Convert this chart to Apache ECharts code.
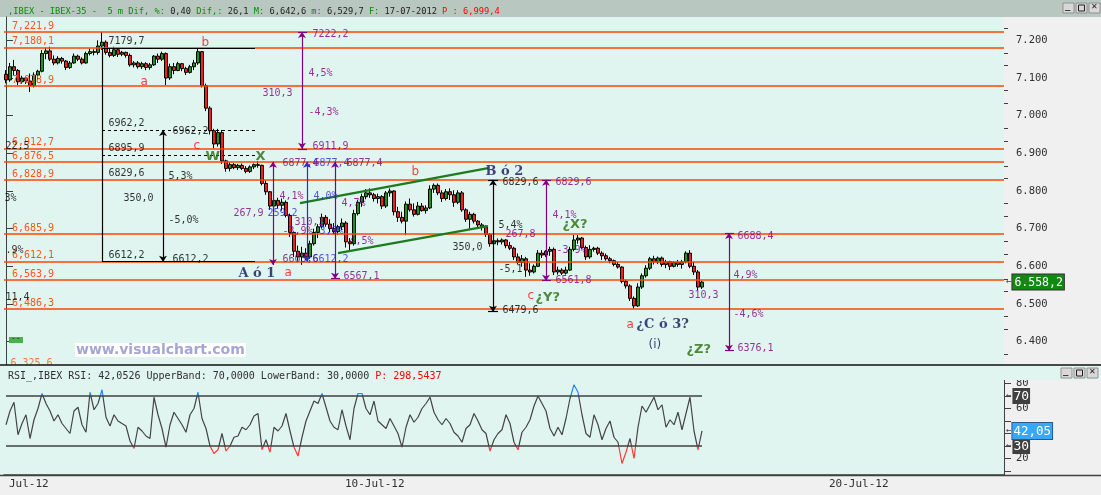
<!DOCTYPE html>
<html><head><meta charset="utf-8">
<script src="https://cdn.jsdelivr.net/npm/echarts@6/dist/echarts.min.js"></script>
<style>html,body{margin:0;padding:0;background:#f0f0f0;}#c{width:1101px;height:495px;}</style>
</head><body><div id="c"></div>
<script>
// ---------- DATA ----------
const categoryCount = 250;
const dateTicks = [[0, 'Jul-12'], [84, '10-Jul-12'], [205, '20-Jul-12']];

// [open, close, low, high]
const ohlc = [
[7110,7095,7086,7121],[7095,7130,7090,7140],[7130,7120,7108,7148],[7120,7090,7081,7124],[7090,7100,7085,7106],
[7100,7092,7084,7104],[7092,7080,7063,7112],[7080,7108,7075,7115],[7108,7118,7095,7122],[7118,7165,7115,7174],
[7165,7172,7150,7180],[7172,7150,7145,7183],[7150,7140,7134,7160],[7140,7152,7136,7158],[7152,7145,7138,7156],
[7145,7128,7121,7148],[7128,7140,7124,7145],[7140,7158,7138,7165],[7158,7150,7145,7162],[7150,7140,7136,7155],
[7140,7165,7138,7170],[7165,7170,7160,7178],[7170,7168,7160,7176],[7168,7185,7162,7200],[7185,7195,7175,7222],
[7195,7168,7162,7200],[7168,7160,7155,7178],[7160,7175,7156,7183],[7175,7163,7156,7180],[7163,7168,7158,7172],
[7168,7160,7154,7170],[7160,7135,7130,7165],[7135,7140,7128,7145],[7140,7130,7125,7145],[7130,7138,7124,7143],
[7138,7128,7121,7142],[7128,7135,7122,7140],[7135,7158,7132,7161],[7158,7150,7140,7165],[7150,7165,7145,7170],
[7165,7100,7081,7168],[7100,7130,7095,7138],[7130,7120,7110,7140],[7120,7138,7118,7143],[7138,7125,7118,7140],
[7125,7115,7108,7130],[7115,7130,7112,7135],[7130,7140,7121,7148],[7140,7170,7135,7180],[7170,7080,7075,7172],
[7080,7020,7012,7085],[7020,6960,6950,7025],[6960,6925,6913,6965],[6925,6955,6918,6965],[6955,6880,6872,6962],
[6880,6860,6851,6883],[6860,6870,6852,6876],[6870,6862,6858,6874],[6862,6868,6856,6872],[6868,6860,6856,6873],
[6860,6852,6847,6866],[6852,6864,6848,6868],[6864,6870,6858,6873],[6870,6868,6862,6880],[6868,6820,6815,6870],
[6820,6798,6790,6828],[6798,6760,6750,6800],[6760,6775,6752,6780],[6775,6762,6754,6782],[6762,6770,6748,6780],
[6770,6735,6730,6775],[6735,6690,6678,6740],[6690,6640,6625,6692],[6640,6625,6615,6655],[6625,6635,6604,6652],
[6635,6625,6617,6648],[6625,6660,6620,6668],[6660,6690,6655,6700],[6690,6705,6675,6712],[6705,6730,6700,6740],
[6730,6712,6705,6736],[6712,6700,6690,6725],[6700,6692,6685,6715],[6692,6705,6683,6710],[6705,6715,6696,6727],
[6715,6665,6650,6720],[6665,6660,6643,6675],[6660,6740,6655,6750],[6740,6770,6735,6776],[6770,6785,6758,6793],
[6785,6795,6778,6805],[6795,6790,6782,6807],[6790,6780,6772,6795],[6780,6785,6767,6793],[6785,6760,6752,6789],
[6760,6795,6755,6800],[6795,6800,6785,6807],[6800,6745,6735,6802],[6745,6730,6718,6758],[6730,6720,6714,6745],
[6720,6765,6683,6772],[6765,6750,6745,6780],[6750,6738,6732,6767],[6738,6760,6735,6771],[6760,6748,6745,6768],
[6748,6755,6740,6762],[6755,6805,6752,6815],[6805,6815,6795,6820],[6815,6795,6789,6820],[6795,6780,6771,6802],
[6780,6798,6775,6805],[6798,6790,6776,6807],[6790,6770,6758,6802],[6770,6795,6765,6802],[6795,6750,6745,6800],
[6750,6725,6718,6754],[6725,6738,6700,6745],[6738,6720,6714,6742],[6720,6710,6700,6723],[6710,6705,6695,6715],
[6705,6685,6678,6709],[6685,6660,6652,6688],[6660,6668,6655,6674],[6668,6665,6656,6674],[6665,6670,6658,6674],
[6670,6655,6648,6672],[6655,6648,6643,6665],[6648,6625,6617,6652],[6625,6610,6605,6634],[6610,6620,6599,6630],
[6620,6590,6572,6625],[6590,6585,6575,6608],[6585,6600,6581,6605],[6600,6635,6598,6643],[6635,6630,6622,6643],
[6630,6640,6625,6643],[6640,6645,6628,6652],[6645,6585,6577,6650],[6585,6590,6578,6599],[6590,6582,6577,6595],
[6582,6590,6578,6599],[6590,6645,6588,6652],[6645,6670,6640,6683],[6670,6675,6660,6683],[6675,6650,6645,6678],
[6650,6625,6617,6655],[6625,6645,6620,6656],[6645,6648,6639,6652],[6648,6635,6630,6652],[6635,6628,6617,6640],
[6628,6620,6615,6634],[6620,6615,6608,6625],[6615,6605,6600,6618],[6605,6598,6594,6612],[6598,6560,6555,6600],
[6560,6548,6541,6565],[6548,6515,6508,6552],[6515,6495,6488,6520],[6495,6545,6492,6555],[6545,6575,6540,6581],
[6575,6595,6570,6603],[6595,6620,6590,6625],[6620,6612,6605,6628],[6612,6622,6606,6626],[6622,6605,6599,6626],
[6605,6612,6595,6617],[6612,6600,6590,6615],[6600,6610,6597,6614],[6610,6605,6599,6617],[6605,6612,6594,6617],
[6612,6635,6608,6640],[6635,6600,6595,6643],[6600,6585,6577,6612],[6585,6545,6537,6590],[6545,6558.2,6540,6562]
];

const rsi = [
47,58,65,39,48,55,36,51,60,72,
64,58,50,55,48,44,40,58,61,47,
41,73,59,64,75,53,46,55,50,48,
46,34,28,45,42,38,36,69,55,44,
29,47,57,52,47,41,55,60,73,52,
44,30,24,27,40,26,30,37,38,45,
43,47,54,56,27,35,25,45,42,46,
56,42,29,22,37,50,58,66,64,72,
61,50,45,43,59,46,35,60,72,72,
60,55,66,50,47,44,52,46,40,29,
45,55,49,53,60,64,69,57,51,47,
52,48,41,38,33,44,47,56,50,43,
40,26,35,40,43,55,48,33,27,41,
45,51,62,70,64,58,44,38,45,39,
52,68,79,73,55,40,37,55,47,35,
44,50,37,33,16,25,36,20,45,62,
57,63,69,59,63,45,51,47,57,43,
56,69,42,27,42.05
];

const levels = [7221.9, 7180.1, 7078.9, 6912.7, 6876.5, 6828.9, 6685.9, 6612.1, 6563.9, 6486.3];
const levelBelow = [[1, 6342.9, '6,325,6']];
const priceTicks = [6400, 6500, 6600, 6700, 6800, 6900, 7000, 7100, 7200];
const priceMinorTicks = [6366.7, 6433.3, 6466.7, 6533.3, 6566.7, 6633.3, 6666.7, 6733.3, 6766.7, 6833.3, 6866.7, 6933.3, 6966.7, 7033.3, 7066.7, 7133.3, 7166.7, 7233.3];
const lastPrice = 6558.2;
const rsiTicks = [10, 20, 30, 40, 50, 60, 70, 80];
const rsiLabels = [20, 60, 80];
const rsiBandTags = [70, 30];
const rsiLast = 42.05;
const rsiBands = [70, 30];

// annotation segments: [barIndex1, price1, barIndex2, price2]
const blackSolid = [[24, 7179.7, 62.25, 7179.7], [24, 7179.7, 24, 6612.2], [24, 6612.2, 62.25, 6612.2],
  [120.5, 6829.6, 123, 6829.6], [120.5, 6479.6, 123, 6479.6]];
const blackDashed = [[24, 6962.2, 62.25, 6962.2], [24, 6895.9, 62.25, 6895.9]];
const blackArrows = [[39.25, 6962.2, 39.25, 6612.2], [121.75, 6829.6, 121.75, 6479.6]];
const purpleArrows = [[74, 7222.2, 74, 6911.9], [66.75, 6877.4, 66.75, 6603.6], [82.25, 6877.4, 82.25, 6567.1],
  [135, 6829.6, 135, 6561.8], [180.75, 6688.4, 180.75, 6376.1]];
const purpleTicks = [[73, 7222.2, 75.25, 7222.2], [73, 6911.9, 75.25, 6911.9], [81.25, 6567.1, 83.5, 6567.1],
  [134, 6829.6, 136.25, 6829.6], [134, 6561.8, 136.25, 6561.8], [179.75, 6688.4, 182, 6688.4], [179.75, 6376.1, 182, 6376.1]];
const blueArrows = [[75.25, 6877.4, 75.25, 6612.2]];
const channel = [[73.5, 6767.8, 120.5, 6860.8], [83, 6635.1, 120.5, 6706.8]];

// annotation texts: [barIndex, price, text]
const blackTexts = [
  [25.5, 7198.0, '7179,7'], [25.5, 6980.3, '6962,2'], [25.5, 6913.9, '6895,9'], [25.5, 6847.5, '6829,6'],
  [29.25, 6781.1, '350,0'], [25.5, 6629.7, '6612,2'], [41.5, 6959.0, '6962,2'], [40.5, 6839.5, '5,3%'],
  [40.5, 6722.7, '-5,0%'], [41.5, 6619.1, '6612,2'], [124, 6823.6, '6829,6'], [124, 6483.7, '6479,6'],
  [123, 6709.4, '5,4%'], [123, 6592.6, '-5,1'], [111.5, 6651.0, '350,0'],
  [-0.25, 6919.2, '22,5'], [-0.5, 6781.1, '3%'], [-0.25, 6643.0, '.9%'], [-0.25, 6518.2, '11,4']
];
const redTexts = [[48.75, 7192.7, 'b'], [33.5, 7089.1, 'a'], [46.75, 6919.2, 'c'], [69.5, 6581.9, 'a'],
  [101.25, 6850.2, 'b'], [130.25, 6520.9, 'c'], [155, 6443.9, 'a']];
const navyTexts = [[58, 6581.9, 'A ó 1'], [119.75, 6850.2, 'B ó 2'], [157.5, 6443.9, '¿C ó 3?']];
const navyPlain = [[160.5, 6390.8, '(i)']];
const greenTexts = [[49.75, 6890.0, 'W'], [62.25, 6890.0, 'X'], [139, 6709.4, '¿X?'], [132.25, 6518.2, '¿Y?'], [170, 6377.5, '¿Z?']];
const purpleTexts = [
  [76.5, 7216.6, '7222,2'], [75.5, 7113.0, '4,5%'], [64, 7059.9, '310,3'], [75.5, 7009.5, '-4,3%'], [76.5, 6919.2, '6911,9'],
  [69, 6874.0, '6877,4'], [85, 6874.0, '6877,4'], [68.25, 6786.4, '4,1%'], [83.75, 6767.8, '4,7%'],
  [56.75, 6741.3, '267,9'], [72, 6717.4, '310,3'], [69, 6693.5, '-3,9%'], [84.25, 6666.9, '-4,5%'],
  [69, 6619.1, '6603,6'], [84.25, 6574.0, '6567,1'],
  [137.25, 6823.6, '6829,6'], [136.5, 6736.0, '4,1%'], [124.75, 6685.5, '267,8'], [137.5, 6643.0, '-3,9%'], [137.25, 6563.4, '6561,8'],
  [182.75, 6680.2, '6688,4'], [181.75, 6576.6, '4,9%'], [170.5, 6523.6, '310,3'], [181.75, 6473.1, '-4,6%'], [182.75, 6382.8, '6376,1']
];
const blueTexts = [[76.75, 6874.0, '6877,4'], [76.75, 6786.4, '4,0%'], [65.25, 6741.3, '259,2'], [76.75, 6693.5, '-3,9%'], [76.5, 6619.1, '6612,2']];

// ---------- BUILD ----------
const mono = "'DejaVu Sans Mono', monospace";
const categories = new Array(categoryCount).fill('');
dateTicks.forEach(d => { categories[d[0]] = d[1]; });

function fmtLevel(v) { const s = v.toFixed(1).replace('.', ','); return s.slice(0, 1) + ',' + s.slice(1); }
function fmtPrice(v) { const s = v.toFixed(1); return s[0] + '.' + s.slice(1, 4) + ',' + s.slice(5); }

function segSeries(segs, lineStyle, symbol) {
  return { type: 'scatter', xAxisIndex: 2, yAxisIndex: 0, data: [], silent: true, clip: false,
    markLine: { silent: true, symbol: symbol || 'none', symbolSize: 6, lineStyle: lineStyle, label: { show: false },
      emphasis: { disabled: true },
      data: segs.map(s => [{ coord: [s[0], s[1]] }, { coord: [s[2], s[3]] }]) } };
}
function textSeries(items, style) {
  return { type: 'scatter', xAxisIndex: 2, yAxisIndex: 0, data: items, symbol: 'circle', symbolSize: 1,
    itemStyle: { color: 'rgba(0,0,0,0)' }, silent: true, clip: false, z: 6,
    label: Object.assign({ show: true, position: 'right', distance: 0, formatter: p => p.data[2] }, style) };
}
const txtMono = { fontFamily: mono, fontSize: 10 };

const series = [
  { type: 'candlestick', xAxisIndex: 0, yAxisIndex: 0, data: ohlc, barWidth: 3.8,
    itemStyle: { color: '#169a16', color0: '#ff1a1a', borderColor: '#000', borderColor0: '#000', borderWidth: 1 } },
  { type: 'line', xAxisIndex: 1, yAxisIndex: 3, data: rsi, symbol: 'none', lineStyle: { width: 1.2 } },
  { type: 'scatter', xAxisIndex: 0, yAxisIndex: 0, data: [], silent: true, clip: false,
    markLine: { silent: true, symbol: 'none', emphasis: { disabled: true },
      lineStyle: { color: '#ff4400', width: 1.6, type: 'solid' },
      label: { show: true, position: 'insideStartTop', distance: 1, padding: [0, 0, 0, 7], color: '#ff5414',
        fontFamily: mono, fontSize: 10, formatter: p => fmtLevel(p.value) },
      data: levels.map(v => ({ yAxis: v })) } },
  { type: 'scatter', xAxisIndex: 1, yAxisIndex: 3, data: [], silent: true,
    markLine: { silent: true, symbol: 'none', emphasis: { disabled: true }, lineStyle: { color: '#404040', width: 1.5, type: 'solid' },
      label: { show: false },
      data: rsiBands.map(v => [{ coord: [0, v] }, { coord: [174, v] }]) } },
  segSeries(channel, { color: '#1e7a1e', width: 2.2, type: 'solid' }),
  segSeries(blackSolid, { color: '#000', width: 1.2, type: 'solid' }),
  segSeries(blackDashed, { color: '#000', width: 1, type: [3, 3] }),
  segSeries(blackArrows, { color: '#000', width: 1.2, type: 'solid' }, ['arrow', 'arrow']),
  segSeries(purpleArrows, { color: '#800080', width: 1.2, type: 'solid' }, ['arrow', 'arrow']),
  segSeries(purpleTicks, { color: '#800080', width: 1.2, type: 'solid' }),
  segSeries(blueArrows, { color: '#2a2ae0', width: 1.2, type: 'solid' }, ['arrow', 'arrow']),
  textSeries(levelBelow, Object.assign({ color: '#ff5414' }, txtMono)),
  textSeries(blackTexts, Object.assign({ color: '#000' }, txtMono)),
  textSeries(purpleTexts, Object.assign({ color: '#800080' }, txtMono)),
  textSeries(blueTexts, Object.assign({ color: '#2a2ae0' }, txtMono)),
  textSeries(redTexts, { color: '#ff1010', fontFamily: 'DejaVu Sans', fontSize: 12 }),
  textSeries(navyTexts, { color: '#14145e', fontFamily: 'DejaVu Serif', fontWeight: 'bold', fontSize: 13 }),
  textSeries(navyPlain, { color: '#14145e', fontFamily: 'DejaVu Sans', fontSize: 12 }),
  textSeries(greenTexts, { color: '#2b6b12', fontFamily: 'DejaVu Sans', fontWeight: 'bold', fontSize: 13 })
];

const axisTxt = { color: '#303030', fontFamily: mono, fontSize: 10.5 };
const priceRange = { min: 6338, max: 7262 };
const rsiRange = { min: 6.8, max: 82.8 };
const tagArrow = { color: '#404040', fontFamily: mono, fontSize: 9, padding: [0, 1, 0, 0] };

function tagAxis(gridIndex, range, values, formatter, rich) {
  return Object.assign({ type: 'value', gridIndex: gridIndex, position: 'right', splitLine: { show: false }, axisLine: { show: false },
    axisTick: { show: false },
    axisLabel: { customValues: values, margin: 2, hideOverlap: false, formatter: formatter, rich: rich } }, range);
}

const option = {
  animation: false,
  backgroundColor: '#f0f0f0',
  title: [
    { left: 3, top: 2, z: 60, textStyle: { fontFamily: mono, fontSize: 8.7, fontWeight: 'normal',
        rich: { g: { color: '#0a8a0a', fontFamily: mono, fontSize: 8.7 }, k: { color: '#202020', fontFamily: mono, fontSize: 8.7 },
                r: { color: '#ff0000', fontFamily: mono, fontSize: 8.7 } } },
      text: '{g|,IBEX - IBEX-35 -  5 m Dif, %:} {k|0,40} {g|Dif,:} {k|26,1} {g|M:} {k|6,642,6} {g|m:} {k|6,529,7} {g|F:} {k|17-07-2012} {r|P : 6,999,4}' },
    { left: 3, top: 366, z: 60, textStyle: { fontFamily: mono, fontSize: 10, fontWeight: 'normal',
        rich: { k: { color: '#303030', fontFamily: mono, fontSize: 10 }, r: { color: '#ff0000', fontFamily: mono, fontSize: 10 } } },
      text: '{k|RSI_,IBEX RSI: 42,0526 UpperBand: 70,0000 LowerBand: 30,0000} {r|P: 298,5437}' }
  ],
  grid: [
    { left: 4, top: 17, width: 1000, height: 348 },
    { left: 4, top: 380, width: 1000, height: 95 }
  ],
  xAxis: [
    { type: 'category', gridIndex: 0, data: categories, show: false },
    { type: 'category', gridIndex: 1, data: categories,
      axisLine: { lineStyle: { color: '#404040', width: 1.5 } },
      axisTick: { alignWithLabel: true, length: 7, interval: (i, v) => v !== '' && i > 0, lineStyle: { color: '#303030' } },
      axisLabel: { interval: (i, v) => v !== '', align: 'left', padding: [0, 0, 0, 3], margin: 4, color: '#303030', fontFamily: mono, fontSize: 11 } },
    { type: 'value', gridIndex: 0, min: -0.5, max: categoryCount - 0.5, show: false }
  ],
  yAxis: [
    Object.assign({ type: 'value', gridIndex: 0, position: 'right', splitLine: { show: false },
      axisLine: { show: true, lineStyle: { color: '#404040' } },
      axisTick: { show: true, customValues: priceTicks, length: 7, lineStyle: { color: '#404040' } },
      axisLabel: Object.assign({ customValues: priceTicks, margin: 12, formatter: v => (v / 1000).toFixed(3) }, axisTxt) }, priceRange),
    Object.assign({ type: 'value', gridIndex: 0, position: 'right', splitLine: { show: false }, axisLine: { show: false },
      axisTick: { show: true, customValues: priceMinorTicks, length: 4, lineStyle: { color: '#404040' } },
      axisLabel: { show: false } }, priceRange),
    tagAxis(0, priceRange, [lastPrice], v => '{a|←}{g|' + fmtPrice(v) + '}',
      { a: tagArrow, g: { backgroundColor: '#128a12', color: '#ffffff', borderColor: '#303030', borderWidth: 1, padding: [2, 1, 1, 2], fontFamily: mono, fontSize: 11.5 } }),
    Object.assign({ type: 'value', gridIndex: 1, position: 'right', splitLine: { show: false },
      axisLine: { show: true, lineStyle: { color: '#404040' } },
      axisTick: { show: true, customValues: rsiTicks, length: 7, lineStyle: { color: '#404040' } },
      axisLabel: Object.assign({ customValues: rsiLabels, margin: 12 }, axisTxt) }, rsiRange),
    tagAxis(1, rsiRange, rsiBandTags, v => '{a|←}{d|' + v + '}',
      { a: tagArrow, d: { backgroundColor: '#404040', color: '#ffffff', padding: [2, 1, 1, 1], fontFamily: mono, fontSize: 13 } }),
    tagAxis(1, rsiRange, [rsiLast], v => '{a|←}{b|' + v.toFixed(2).replace('.', ',') + '}',
      { a: tagArrow, b: { backgroundColor: '#38a8ff', color: '#ffffff', borderColor: '#285a90', borderWidth: 1, padding: [2, 1, 1, 1], fontFamily: mono, fontSize: 12.5 } })
  ],
  visualMap: { type: 'piecewise', show: false, seriesIndex: 1, dimension: 1,
    pieces: [{ lt: 30, color: '#ff3838' }, { gte: 30, lte: 70, color: '#444444' }, { gt: 70, color: '#1e88ff' }] },
  series: series,
  graphic: { elements: [
    { type: 'rect', shape: { x: 0, y: 0, width: 1101, height: 17 }, style: { fill: '#b9c7c1' }, z: -1 },
    { type: 'rect', shape: { x: 0, y: 17, width: 1004, height: 348 }, style: { fill: '#e0f5ef' }, z: -1 },
    { type: 'rect', shape: { x: 0, y: 380, width: 1004, height: 95 }, style: { fill: '#e0f5ef' }, z: -1 },
    { type: 'rect', shape: { x: 0, y: 365, width: 1101, height: 15 }, style: { fill: '#e0f5ef' }, z: 50 },
    { type: 'line', shape: { x1: 0, y1: 365, x2: 1101, y2: 365 }, style: { stroke: '#101010', lineWidth: 1.5 }, z: 55 },
    { type: 'line', shape: { x1: 0, y1: 475.5, x2: 1101, y2: 475.5 }, style: { stroke: '#404040', lineWidth: 1.5 }, z: 55 },
    { type: 'text', x: 75, y: 343, z: 8, style: { text: 'www.visualchart.com', font: 'bold 14px "DejaVu Sans"', fill: '#a6a6d4', backgroundColor: '#ffffff', padding: [0, 1] } },
    { type: 'rect', shape: { x: 9, y: 337, width: 14, height: 6 }, style: { fill: '#4caf50' }, z: 8 },
    { type: 'text', x: 11, y: 335, z: 9, style: { text: '--', font: '8px "DejaVu Sans Mono"', fill: '#1a3a1a' } },
    { type: 'rect', shape: { x: 1063, y: 3, width: 11, height: 10 }, style: { fill: '#d8d8d8', stroke: '#909090' }, z: 60 },
    { type: 'rect', shape: { x: 1076, y: 3, width: 11, height: 10 }, style: { fill: '#d8d8d8', stroke: '#909090' }, z: 60 },
    { type: 'rect', shape: { x: 1089, y: 3, width: 11, height: 10 }, style: { fill: '#d8d8d8', stroke: '#909090' }, z: 60 },
    { type: 'text', x: 1065, y: 2, z: 61, style: { text: '_', font: 'bold 9px "DejaVu Sans Mono"', fill: '#202020' } },
    { type: 'rect', shape: { x: 1078.5, y: 5, width: 6, height: 6 }, style: { fill: 'none', stroke: '#202020' }, z: 61 },
    { type: 'text', x: 1091, y: 3, z: 61, style: { text: '✕', font: '8px "DejaVu Sans"', fill: '#202020' } },
    { type: 'rect', shape: { x: 1061, y: 368, width: 11, height: 10 }, style: { fill: '#d8d8d8', stroke: '#909090' }, z: 60 },
    { type: 'rect', shape: { x: 1074, y: 368, width: 11, height: 10 }, style: { fill: '#d8d8d8', stroke: '#909090' }, z: 60 },
    { type: 'rect', shape: { x: 1087, y: 368, width: 11, height: 10 }, style: { fill: '#d8d8d8', stroke: '#909090' }, z: 60 },
    { type: 'text', x: 1063, y: 367, z: 61, style: { text: '_', font: 'bold 9px "DejaVu Sans Mono"', fill: '#202020' } },
    { type: 'rect', shape: { x: 1076.5, y: 370, width: 6, height: 6 }, style: { fill: 'none', stroke: '#202020' }, z: 61 },
    { type: 'text', x: 1089, y: 368, z: 61, style: { text: '✕', font: '8px "DejaVu Sans"', fill: '#202020' } }
  ] }
};

const chart = echarts.init(document.getElementById('c'), null, { renderer: 'canvas' });
chart.setOption(option);
</script>
</body></html>
